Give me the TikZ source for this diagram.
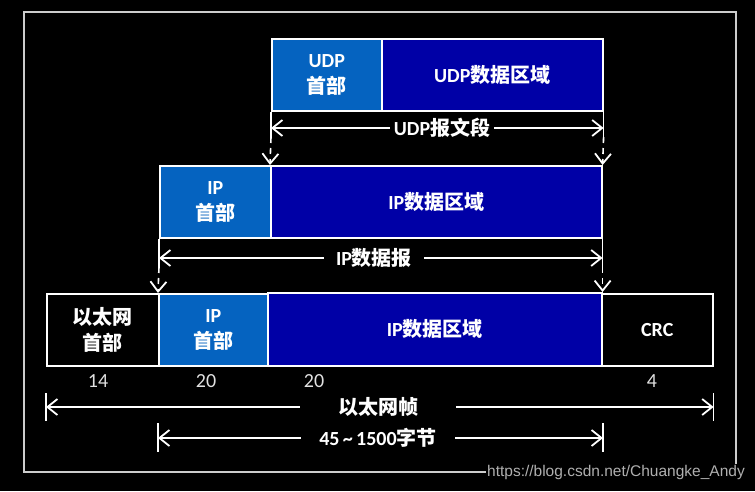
\documentclass[tikz,border=0pt]{standalone}
\usepackage{fontspec}
\setmainfont{Carlito}
\newfontfamily\cj{Noto Sans CJK SC}
\newfontfamily\wm{Liberation Sans}
\usetikzlibrary{arrows.meta}
\definecolor{hdrblue}{RGB}{5,99,192}
\definecolor{datblue}{RGB}{0,0,166}
\definecolor{numgray}{RGB}{225,225,225}
\definecolor{wmgray}{RGB}{175,175,175}
\definecolor{framegray}{RGB}{205,205,205}
\newcommand\lblfont{\fontsize{20}{26}\selectfont\bfseries}
\newcommand\numfont{\fontsize{20}{22}\selectfont}
\tikzset{
  box/.style={draw=white, line width=1.6pt, minimum height=72pt, anchor=north west,
    inner sep=0pt, text=white, align=center, font=\lblfont},
  hdr/.style={box, fill=hdrblue},
  dat/.style={box, fill=datblue},
  blk/.style={box, fill=black},
  barb/.tip={Straight Barb[length=10pt,width=16pt,line width=1.8pt]},
  dim/.style={draw=white, line width=1.8pt, barb-barb},
  tickline/.style={draw=white, line width=1.6pt},
  drop/.style={draw=white, line width=1.6pt, dash pattern=on 6pt off 5pt, -barb},
  lab/.style={fill=black, text=white, inner ysep=2pt, font=\lblfont},
  num/.style={text=numgray, font=\numfont, inner sep=0pt}
}
\begin{document}
\begin{tikzpicture}[x=1pt,y=-1pt]
\fill[black] (0,0) rectangle (755,491);
\useasboundingbox (0,0) rectangle (755,491);
\draw[framegray, line width=1.2pt] (24,12) rectangle (736,472);

% UDP row
\node[hdr, minimum width=110pt] (udph) at (271,38) {UDP\\{\cj 首部}};
\node[dat, minimum width=221pt] (udpd) at (381,38) {UDP{\cj 数据区域}};

% IP row
\node[hdr, minimum width=111pt] (iph) at (159,165) {IP\\{\cj 首部}};
\node[dat, minimum width=331pt] (ipd) at (270,165) {IP{\cj 数据区域}};

% Ethernet row
\node[blk, minimum width=112pt] (eth) at (46,293) {{\cj 以太网}\\{\cj 首部}};
\node[hdr, minimum width=109pt] (eiph) at (158,293) {IP\\{\cj 首部}};
\node[dat, minimum width=334pt, minimum height=73pt] (eipd) at (267,292) {IP{\cj 数据区域}};
\node[blk, minimum width=111pt] (crc) at (601,293) {CRC};

% helper coordinates
\coordinate (yU) at (0,128);
\coordinate (yUt) at (0,137);
\coordinate (yI) at (0,258);
\coordinate (yIt) at (0,267);
\coordinate (yE) at (0,407);
\coordinate (yEa) at (0,393);
\coordinate (yEb) at (0,421);
\coordinate (yB) at (0,438);
\coordinate (yBa) at (0,423);
\coordinate (yBb) at (0,452);

% UDP segment dimension
\coordinate (ul) at (udph.south west |- yU);
\coordinate (ur) at (udpd.south east |- yU);
\coordinate (ult) at (udph.south west |- yUt);
\coordinate (urt) at (udpd.south east |- yUt);
\draw[tickline] (udph.south west) -- (ult);
\draw[tickline] (udpd.south east) -- (urt);
\draw[dim] (ul) -- (ur);
\node[lab, inner xsep=4pt] (ulab) at (442,128) {UDP{\cj 报文段}};
\draw[drop] (ult) -- (ipd.north west);
\draw[drop] (urt) -- (ipd.north east);

% IP datagram dimension
\coordinate (il) at (iph.south west |- yI);
\coordinate (ir) at (ipd.south east |- yI);
\coordinate (ilt) at (iph.south west |- yIt);
\coordinate (irt) at (ipd.south east |- yIt);
\draw[tickline] (iph.south west) -- (ilt);
\draw[tickline] (ipd.south east) -- (irt);
\draw[dim] (il) -- (ir);
\node[lab, inner xsep=12pt] (ilab) at (374,258) {IP{\cj 数据报}};
\draw[drop] (ilt) -- (eiph.north west);
\draw[drop] (irt) -- (eipd.north east);

% byte counts
\node[num] (n14) at (98,381) {14};
\node[num] (n20a) at (206,381) {20};
\node[num] (n20b) at (314,381) {20};
\node[num] (n4) at (652,381) {4};

% Ethernet frame dimension
\coordinate (ea) at (eth.south west |- yEa);
\coordinate (eb) at (eth.south west |- yEb);
\coordinate (ec) at (crc.south east |- yEa);
\coordinate (ed) at (crc.south east |- yEb);
\draw[tickline] (ea) -- (eb);
\draw[tickline] (ec) -- (ed);
\draw[dim] (eth.south west |- yE) -- (crc.south east |- yE);
\node[lab, inner xsep=38pt] (elab) at (378,407) {\cj 以太网帧};

% 45~1500 bytes dimension
\coordinate (ba) at (eiph.south west |- yBa);
\coordinate (bb) at (eiph.south west |- yBb);
\coordinate (bc) at (603,423);
\coordinate (bd) at (603,452);
\draw[tickline] (ba) -- (bb);
\draw[tickline] (bc) -- (bd);
\draw[dim] (eiph.south west |- yB) -- (bc |- yB);
\node[lab, inner xsep=18pt] (blab) at (378,438) {45\,\textasciitilde\,1500{\cj 字节}};

% watermark
\node[fill=black, text=wmgray, font=\wm\fontsize{15.5}{17}\selectfont, inner sep=1pt, anchor=east] (wmk) at (746,472) {https://blog.csdn.net/Chuangke\_Andy};
\end{tikzpicture}
\end{document}
